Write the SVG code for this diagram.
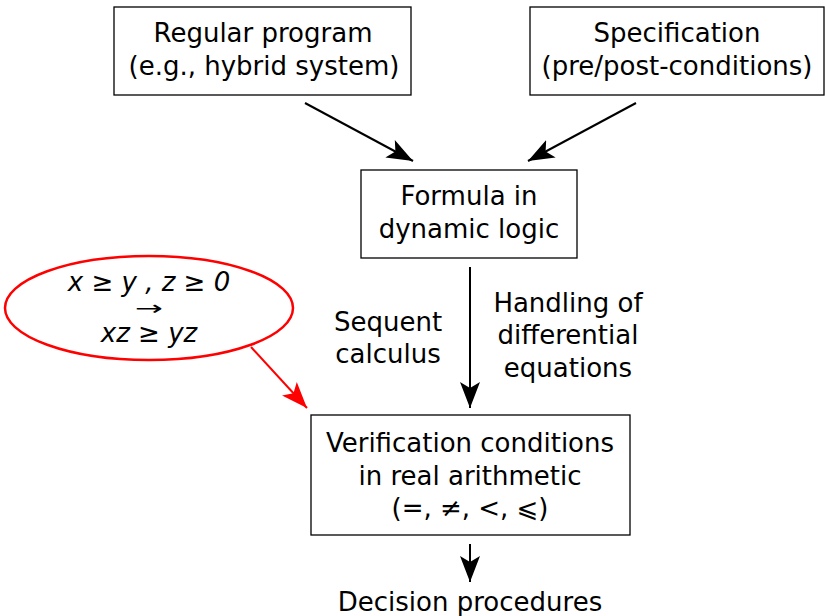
<svg xmlns="http://www.w3.org/2000/svg" width="825" height="616" viewBox="0 0 825 616">
<style>
text{font-family:"DejaVu Sans","Liberation Sans",sans-serif;font-size:26px;fill:#000;text-anchor:middle}
.box{fill:#fff;stroke:#000;stroke-width:1.3}
.c{stroke:#000;stroke-width:2;fill:none}
.it{font-style:italic}
</style>
<defs>
<marker id="ah" markerUnits="userSpaceOnUse" markerWidth="28" markerHeight="22" refX="26" refY="10" orient="auto" viewBox="0 0 28 20">
<path d="M0,0 L26,10 L0,20 L6,10 Z" fill="#000"/>
</marker>
<marker id="ahr" markerUnits="userSpaceOnUse" markerWidth="28" markerHeight="22" refX="26" refY="10" orient="auto" viewBox="0 0 28 20">
<path d="M0,0 L26,10 L0,20 L6,10 Z" fill="#f00"/>
</marker>
</defs>
<rect width="825" height="616" fill="#fff"/>
<g id="regular">
<rect class="box" x="114" y="7" width="297" height="88"/>
<text x="263" y="42">Regular program</text>
<text x="264" y="75">(e.g., hybrid system)</text>
</g>
<g id="spec">
<rect class="box" x="530" y="7" width="294" height="88"/>
<text x="677" y="42">Specification</text>
<text x="677" y="75">(pre/post-conditions)</text>
</g>
<g id="formula">
<rect class="box" x="361" y="170" width="216" height="88"/>
<text x="469" y="205">Formula in</text>
<text x="469" y="238">dynamic logic</text>
</g>
<g id="verif">
<rect class="box" x="311" y="415" width="319" height="120"/>
<text x="470" y="452">Verification conditions</text>
<text x="470" y="485">in real arithmetic</text>
<text x="470" y="517">(=, ≠, &lt;, ⩽)</text>
</g>
<g id="decision">
<text x="470" y="611">Decision procedures</text>
</g>
<g id="example">
<ellipse cx="149" cy="308" rx="144" ry="52" fill="#fff" stroke="#f00" stroke-width="2.5"/>
<text class="it" x="149" y="291">x ≥ y , z ≥ 0</text>
<text x="149" y="315" style="font-size:20px" textLength="28" lengthAdjust="spacingAndGlyphs">→</text>
<text class="it" x="149" y="342">xz ≥ yz</text>
</g>
<g id="labels">
<text x="388" y="331">Sequent</text>
<text x="388" y="363">calculus</text>
<text x="568" y="312">Handling of</text>
<text x="568" y="344">differential</text>
<text x="568" y="377">equations</text>
</g>
<g id="connectors">
<line class="c" x1="305" y1="103" x2="413" y2="161" marker-end="url(#ah)"/>
<line class="c" x1="636" y1="103" x2="528" y2="161" marker-end="url(#ah)"/>
<line class="c" x1="470" y1="267" x2="470" y2="408" marker-end="url(#ah)"/>
<line class="c" x1="470" y1="544" x2="470" y2="582" marker-end="url(#ah)"/>
<line x1="251" y1="347" x2="307" y2="408" stroke="#f00" stroke-width="2" marker-end="url(#ahr)"/>
</g>
</svg>
